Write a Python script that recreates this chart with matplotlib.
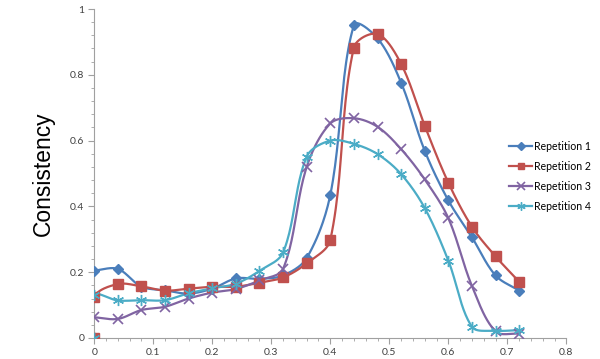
import numpy as np
import matplotlib
matplotlib.use('Agg')
import matplotlib.pyplot as plt
from matplotlib.ticker import MultipleLocator, FuncFormatter

# sample positions (the first point is repeated at 0 for series 2 and 4)
x_pts = [0, 0.04, 0.08, 0.12, 0.16, 0.20, 0.24, 0.28, 0.32, 0.36,
         0.40, 0.44, 0.48, 0.52, 0.56, 0.60, 0.64, 0.68, 0.72]

rep1 = [0.205, 0.21, 0.156, 0.145, 0.135, 0.15, 0.181, 0.18, 0.19, 0.243,
        0.435, 0.951, 0.911, 0.776, 0.569, 0.418, 0.306, 0.19, 0.144]
rep2 = [0.125, 0.164, 0.157, 0.144, 0.15, 0.156, 0.156, 0.168, 0.184, 0.227,
        0.298, 0.883, 0.924, 0.833, 0.645, 0.472, 0.338, 0.248, 0.171]
rep3 = [0.063, 0.058, 0.085, 0.095, 0.12, 0.138, 0.149, 0.175, 0.21, 0.52,
        0.652, 0.668, 0.642, 0.574, 0.482, 0.364, 0.158, 0.02, 0.013]
rep4 = [0.13, 0.114, 0.115, 0.115, 0.136, 0.151, 0.165, 0.204, 0.26, 0.551,
        0.60, 0.59, 0.559, 0.498, 0.395, 0.235, 0.034, 0.022, 0.024]

labels = ['Repetition 1', 'Repetition 2', 'Repetition 3', 'Repetition 4']
colors = ['#4A7EBB', '#C0504D', '#8064A2', '#4BACC6']


def smooth(ax, xs, ys, n=24):
    # Excel-like smoothed line: bezier segments, tangents scaled by segment length
    # (done in pixel space so it looks the same as on screen)
    tr = ax.transData
    p = tr.transform(np.column_stack([xs, ys]).astype(float))
    m = len(p)
    t = np.linspace(0, 1, n, endpoint=False)[:, None]
    out = []
    for i in range(m - 1):
        p1, p2 = p[i], p[i+1]
        p0 = p[i-1] if i > 0 else p1
        p3 = p[i+2] if i + 2 < m else p2
        d01 = np.hypot(*(p1 - p0))
        d12 = np.hypot(*(p2 - p1))
        d23 = np.hypot(*(p3 - p2))
        f1 = 2 * d12 / (d01 + d12) if d01 + d12 > 0 else 0
        f2 = 2 * d12 / (d12 + d23) if d12 + d23 > 0 else 0
        c1 = p1 + (p2 - p0) / 6 * f1
        c2 = p2 - (p3 - p1) / 6 * f2
        seg = ((1-t)**3)*p1 + 3*((1-t)**2)*t*c1 + 3*(1-t)*t**2*c2 + t**3*p2
        out.append(seg)
    out.append(p[-1][None, :])
    out = tr.inverted().transform(np.vstack(out))
    return out[:, 0], out[:, 1]


series = [
    (list(x_pts), rep1, 'D', 5, 1.0),
    ([0] + x_pts, [0] + rep2, 's', 6.5, 1.0),
    (list(x_pts), rep3, 'x', 7, 1.2),
    ([0] + x_pts, [0] + rep4, (6, 2, 0), 8, 1.0),
]

fig = plt.figure(figsize=(6, 3.59), dpi=100)
ax = fig.add_axes([0.157, 0.0585, 0.787, 0.9164])
ax.set_xlim(0, 0.8)
ax.set_ylim(0, 1)

for (xs, ys, mk, ms, mew), lab, c in zip(series, labels, colors):
    sx, sy = smooth(ax, xs, ys)
    ax.plot(sx, sy, color=c, lw=1.6, zorder=2)
    ax.plot(xs, ys, linestyle='none', marker=mk, markersize=ms, color=c,
            markeredgewidth=mew, zorder=3)
    ax.plot([], [], color=c, lw=1.6, marker=mk, markersize=ms * 0.75,
            markeredgewidth=mew, label=lab)

ax.xaxis.set_major_locator(MultipleLocator(0.1))
ax.xaxis.set_minor_locator(MultipleLocator(0.02))
ax.yaxis.set_major_locator(MultipleLocator(0.2))
ax.yaxis.set_minor_locator(MultipleLocator(0.04))
fmt = FuncFormatter(lambda v, p: '%g' % round(v, 2))
ax.xaxis.set_major_formatter(fmt)
ax.yaxis.set_major_formatter(fmt)

for s in ['top', 'right']:
    ax.spines[s].set_visible(False)
for s in ['left', 'bottom']:
    ax.spines[s].set_color('#A0A0A0')
    ax.spines[s].set_linewidth(0.8)

ax.tick_params(which='major', length=4, width=0.8, color='#A0A0A0',
               labelsize=7.5, labelcolor='#404040', pad=3)
ax.tick_params(which='minor', length=2.5, width=0.6, color='#A0A0A0')
for t in ax.get_xticklabels() + ax.get_yticklabels():
    t.set_fontfamily('Lato')

fig.text(0.073, 0.515, 'Consistency', rotation=90, ha='center', va='center',
         fontsize=16.4, family='Liberation Sans')

leg = ax.legend(loc='upper left', bbox_to_anchor=(0.87, 0.612), frameon=False,
                fontsize=7.6, handlelength=2.2, handletextpad=0.1,
                labelspacing=0.85, borderaxespad=0)
for t in leg.get_texts():
    t.set_fontfamily('Lato')

fig.savefig('out.png', dpi=100)
